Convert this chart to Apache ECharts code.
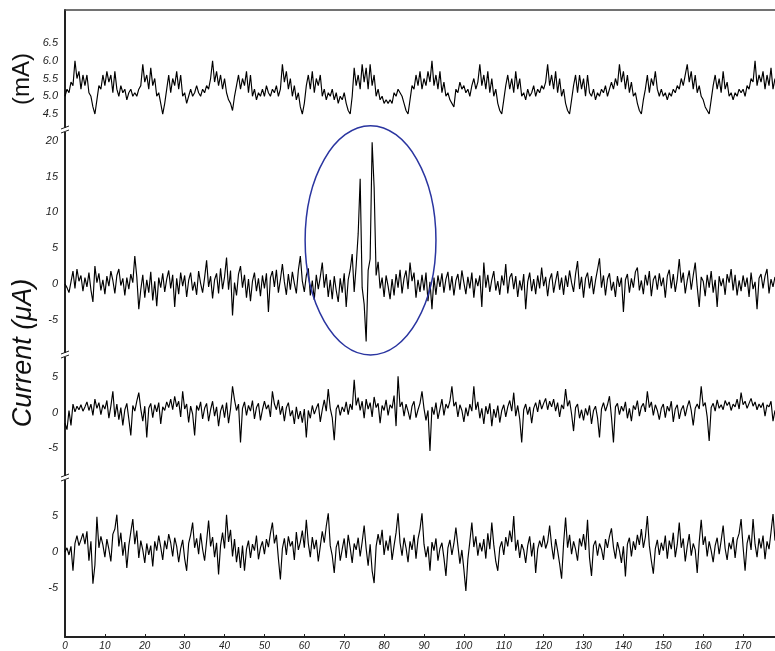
<!DOCTYPE html>
<html>
<head>
<meta charset="utf-8">
<script src="https://cdn.jsdelivr.net/npm/echarts@6/dist/echarts.min.js"></script>
<style>
html,body{margin:0;padding:0;background:#fff;}
#chart{width:775px;height:651px;}
</style>
</head>
<body>
<div id="chart"></div>
<script>
// sample spacing along x (seconds)
const STEP = 0.5;

// x-axis tick labels
const xTicks = [0,10,20,30,40,50,60,70,80,90,100,110,120,130,140,150,160,170];
const ticksMA = [4.5,5.0,5.5,6.0,6.5];
const ticksTrace2 = [-5,0,5,10,15,20];
const ticksTrace3 = [-5,0,5];
const ticksTrace4 = [-5,0,5];

// top trace (mA)
const traceMA = [
5.0,5.2,5.1,5.4,5.3,6.0,5.5,5.7,5.2,5.6,
5.3,5.6,5.1,5.0,4.7,4.5,4.9,5.3,5.2,5.6,
5.3,5.7,5.4,5.6,5.1,5.7,5.2,5.0,5.3,5.1,
5.2,4.9,5.1,5.2,5.0,5.1,5.0,5.2,5.3,5.9,
5.4,5.6,5.2,5.8,5.3,5.5,5.0,5.1,4.8,4.5,
4.8,5.2,5.6,5.1,5.5,5.3,5.7,5.2,5.6,5.0,
5.1,4.8,5.0,5.2,5.0,5.1,5.3,5.1,5.0,5.2,
5.1,5.3,5.2,5.5,6.0,5.4,5.7,5.3,5.6,5.2,
5.5,5.1,4.9,4.8,4.6,5.0,5.3,5.6,5.2,5.5,
5.3,5.7,5.1,5.6,5.0,5.2,4.9,5.1,5.0,5.2,
5.0,5.3,5.1,5.0,5.2,5.1,5.3,5.0,5.2,5.9,
5.4,5.7,5.2,5.5,5.0,5.3,4.9,5.1,4.7,4.5,
4.8,5.3,5.6,5.2,5.7,5.1,5.5,5.3,5.6,5.0,
5.2,4.9,5.1,5.0,5.2,4.9,5.1,4.8,5.0,4.9,
5.1,4.8,4.6,4.5,5.0,5.8,5.3,5.6,5.2,5.9,
5.4,5.8,5.2,5.9,5.3,5.6,5.0,5.2,4.9,5.0,
4.8,4.9,4.8,4.9,4.8,5.1,5.0,5.2,5.1,5.0,
4.8,4.6,4.5,4.9,5.3,5.2,5.6,5.3,5.7,5.2,
5.5,5.3,5.7,5.4,6.0,5.3,5.6,5.2,5.7,5.1,
5.4,5.0,5.1,4.9,4.8,4.7,5.2,5.1,5.4,5.2,
5.3,5.1,5.2,5.0,5.3,5.5,5.2,5.4,5.9,5.3,
5.6,5.2,5.7,5.1,5.5,5.0,5.2,4.8,4.6,4.5,
4.9,5.3,5.6,5.2,5.5,5.1,5.7,5.2,5.5,5.0,
5.1,4.9,5.2,5.0,5.1,5.3,5.0,5.2,5.1,5.3,
5.2,5.4,5.9,5.3,5.6,5.2,5.7,5.1,5.5,5.0,
5.2,4.8,4.6,4.5,4.9,5.3,5.6,5.1,5.6,5.2,
5.5,5.0,5.6,5.1,5.0,5.2,4.9,5.1,5.0,5.2,
5.1,5.3,5.0,5.2,5.4,5.2,5.5,5.3,5.9,5.4,
5.7,5.2,5.6,5.1,5.4,5.0,5.1,4.8,4.6,4.5,
4.9,5.2,5.6,5.1,5.5,5.3,5.7,5.2,5.0,5.2,
5.0,5.1,4.9,5.1,5.0,5.2,5.1,5.3,5.2,5.5,
5.3,5.6,5.9,5.4,5.7,5.2,5.6,5.1,5.3,5.0,
4.9,4.7,4.6,4.5,4.9,5.3,5.6,5.2,5.5,5.1,
5.7,5.2,5.4,5.0,5.1,4.9,5.1,5.0,5.2,5.1,
5.2,5.0,5.3,5.2,5.5,5.4,6.0,5.3,5.6,5.4,
5.7,5.2,5.6,5.3,5.8,5.2,5.5
];

// second trace (uA) with the two spikes
const trace2 = [
0.0,-0.5,-1.2,0.3,1.8,-0.6,2.1,0.4,1.2,-1.0,
0.9,-0.4,1.6,-0.8,-2.5,2.5,0.2,1.5,-0.9,0.6,
-1.4,1.1,-0.3,1.8,0.5,-1.3,1.2,2.1,-0.2,0.8,
-1.6,0.9,-0.7,1.4,0.2,3.9,1.0,-3.5,-0.8,1.3,
-1.9,0.6,-1.2,1.7,-2.3,0.4,-3.1,0.9,-0.5,1.5,
-1.1,0.7,1.9,-0.6,1.3,-3.2,0.8,-1.4,1.6,-0.3,
1.2,-1.8,0.5,1.6,-0.9,0.3,-1.5,1.8,0.1,-1.2,
0.9,3.3,-0.4,1.1,-2.0,0.6,1.5,-1.3,2.2,-0.7,
1.0,3.7,-0.8,1.9,-4.4,0.2,-1.6,1.4,2.5,-0.5,
1.3,-1.9,0.7,-2.4,0.4,1.6,-1.0,0.8,-1.7,1.2,
-0.6,1.5,-3.9,0.9,1.8,-0.4,2.0,-1.2,0.6,2.8,
0.3,-1.5,1.4,-0.8,1.7,0.1,-1.3,1.9,3.9,0.4,
-1.1,1.2,2.2,-1.6,0.5,-2.2,1.3,-0.7,1.0,3.0,
-0.5,1.4,-1.8,0.6,-2.1,1.1,-0.9,-2.5,0.8,-1.2,
1.5,-3.2,0.6,2.0,4.2,-1.1,2.6,7.0,14.7,-0.5,
-2.8,-8.0,1.9,3.5,19.8,13.5,1.2,3.1,-0.6,0.9,
-1.8,1.2,-0.3,-2.1,0.7,-1.6,1.4,-0.5,2.0,-1.3,
0.8,1.9,-0.7,3.0,0.4,1.6,-1.9,0.6,-1.1,1.3,
-0.9,1.6,-2.4,0.3,-3.5,0.9,-1.5,1.2,-0.4,1.5,
-1.2,0.7,1.7,-0.9,1.1,-1.6,0.5,1.4,-0.8,1.9,
0.2,-1.4,1.0,-0.6,1.6,-1.9,0.8,-0.3,1.2,-3.2,
3.0,-0.5,1.3,-1.1,0.6,1.8,-0.9,0.4,-1.5,1.2,
-0.2,2.8,-1.3,0.9,1.5,-0.7,1.1,-1.8,0.5,-0.9,
1.4,-3.5,0.3,1.6,-1.0,0.7,-1.4,1.2,-0.6,2.3,
-0.3,1.0,-1.7,0.6,1.5,-1.2,0.4,1.8,-0.8,0.9,
-1.5,1.2,-0.4,1.9,0.2,-1.1,1.4,3.2,-0.7,1.0,
-1.9,0.8,1.6,-0.6,1.1,-1.4,0.5,2.0,3.6,-0.5,
1.2,-1.6,0.7,1.5,-0.9,0.3,-1.8,1.1,-0.4,0.9,
-3.9,0.6,1.4,-1.2,0.8,-0.5,1.7,2.3,-0.9,0.5,
-1.4,1.3,-0.2,1.8,-1.7,0.6,1.2,-0.8,1.5,-0.3,
0.9,-1.9,1.1,2.0,-0.6,1.4,-1.1,0.7,3.5,0.2,
1.6,-1.3,0.5,1.9,-0.8,1.2,3.0,-0.4,-3.2,1.0,
0.4,-1.7,1.3,-0.5,1.8,-1.2,0.6,-3.2,1.1,-0.3,
0.8,-1.5,1.4,0.2,2.1,-0.9,1.3,-1.6,0.5,-1.0,
1.2,-0.4,0.9,-1.8,1.6,-0.7,0.3,-3.5,0.8,1.4,
-0.6,1.1,2.1,-1.3,0.7,-0.4,1.0
];

// third trace (uA)
const trace3 = [
-1.5,-2.4,0.3,-1.8,1.2,0.1,0.9,0.4,1.1,0.2,
0.8,1.5,0.3,1.2,-0.4,1.9,0.6,1.4,-0.3,1.1,
0.5,1.7,-0.8,0.9,3.0,-0.6,1.2,-1.0,0.7,-1.8,
0.4,1.3,-0.9,-3.2,1.0,0.2,1.6,2.8,0.5,-1.2,
0.9,-3.5,0.6,1.3,-0.7,1.1,0.1,1.4,-1.6,0.8,
0.3,1.5,0.7,1.9,0.4,2.3,0.8,1.6,-0.6,3.0,
0.5,1.2,-1.4,0.9,-0.2,-3.2,1.0,0.3,1.5,-0.9,
0.6,1.3,-1.2,0.4,1.6,-0.5,0.8,-1.9,0.2,1.1,
-0.7,1.4,-1.5,0.5,3.7,1.8,0.3,1.2,-4.2,0.6,
1.5,-0.4,1.0,0.2,1.7,-0.9,0.7,1.3,-1.1,0.4,
1.6,0.5,1.1,-0.6,3.0,1.2,0.4,1.8,-0.3,0.9,
-1.2,0.7,1.4,-0.5,0.3,-1.6,0.8,-0.9,0.2,-1.4,
0.5,-3.5,0.3,-0.8,1.0,-0.2,0.6,1.3,-1.3,0.4,
1.8,0.2,3.3,0.6,-0.7,-3.9,0.5,1.1,-0.4,0.8,
0.1,1.5,-0.3,1.2,0.4,4.6,1.0,2.1,0.3,1.6,
-0.8,1.9,0.5,1.4,-0.6,2.2,0.7,1.3,-1.5,1.0,
0.3,1.8,-0.4,1.1,0.6,2.4,-1.9,5.1,0.8,1.5,
-0.5,1.2,0.2,-1.0,0.9,1.6,-0.7,0.4,1.3,3.0,
0.6,-1.1,0.3,-5.4,0.8,-0.3,1.4,-0.9,0.5,1.9,
-0.4,1.2,0.6,1.6,3.7,0.9,1.5,-0.6,1.1,0.3,
-1.3,0.7,-0.5,1.2,0.2,3.7,0.4,1.5,-0.8,0.6,
-1.6,0.9,-0.2,1.3,-1.9,0.5,-0.7,1.0,-1.4,0.3,
1.1,-0.6,0.8,1.7,0.2,2.8,-0.5,1.0,-0.9,-4.2,
0.4,1.2,-0.3,0.8,-1.5,0.6,1.4,0.1,1.8,0.5,
1.3,2.0,0.4,1.6,0.8,1.9,0.2,1.4,-0.6,1.1,
0.5,3.3,0.9,1.7,-0.2,-2.6,0.7,1.2,-0.8,0.4,
-1.1,0.6,-0.4,1.0,-1.6,0.3,0.9,-0.7,-3.5,0.5,
1.4,0.2,1.1,2.3,-0.6,-4.2,0.8,1.3,-0.3,0.9,
0.2,1.5,-0.8,0.6,-1.2,1.0,0.4,1.7,-0.5,0.8,
1.3,0.1,3.0,0.7,1.5,-0.4,1.1,0.3,-1.0,0.6,
1.2,-0.7,0.9,0.2,1.6,-1.3,0.5,1.1,-0.9,0.4,
1.0,-0.5,0.8,1.7,0.3,-1.8,0.6,1.2,0.5,3.7,
0.9,1.4,-0.6,-4.0,0.7,1.3,0.2,1.8,0.6,1.1,
0.4,1.7,1.0,1.5,0.3,1.2,0.8,1.9,0.5,2.8,
1.1,1.6,0.6,1.3,2.0,0.9,1.5,0.4,1.2,0.7,
1.4,-0.5,1.1,0.8,1.6,-1.2,0.3
];

// bottom trace (uA)
const trace4 = [
0.0,0.6,-0.4,0.8,-2.6,1.2,2.3,0.9,1.7,2.6,
1.1,2.9,-1.2,1.5,-4.4,-1.8,4.9,0.6,2.2,1.0,
-0.7,1.8,0.4,-1.3,2.5,3.2,5.2,0.8,2.7,-0.5,
1.4,-2.2,0.9,2.8,4.6,1.1,3.0,-0.8,1.6,0.3,
-1.5,1.2,-0.4,0.9,-2.0,1.5,0.2,2.3,0.7,-1.1,
1.6,0.4,2.5,1.3,-0.6,2.0,0.8,-1.4,0.5,1.7,
-0.9,-2.6,1.2,2.4,4.1,0.6,1.9,-0.3,2.6,0.4,
-1.2,1.5,4.4,0.8,2.1,-0.7,1.3,-3.1,0.9,2.7,
0.5,5.2,1.4,3.1,-0.6,1.8,-1.4,0.7,-2.2,0.9,
-2.6,0.4,1.6,-0.8,1.1,0.2,2.3,-1.0,0.6,1.5,
-0.3,1.8,0.7,2.6,4.1,1.2,2.4,-0.9,-3.8,0.5,
1.9,-0.4,2.2,0.8,1.5,-1.1,2.8,0.3,1.4,3.0,
0.6,4.5,1.2,-0.7,2.1,0.4,1.7,-1.3,0.8,2.9,
1.3,3.6,5.4,0.9,-0.5,-2.9,0.7,1.6,-1.2,0.4,
1.9,-0.8,2.4,0.6,-1.5,1.2,0.3,2.0,-0.6,1.4,
3.7,0.5,-1.9,1.1,-2.6,-4.3,0.8,2.5,1.0,3.1,
-0.4,1.6,0.2,2.3,-1.1,0.9,2.7,5.4,1.3,-0.5,
2.0,0.6,-1.4,1.5,0.3,2.4,-0.9,1.8,3.2,5.4,
1.1,-0.7,0.8,-2.6,1.4,0.2,1.9,-1.2,0.5,1.3,
-0.8,-3.3,0.6,1.7,-0.4,1.2,3.4,0.9,-1.6,0.3,
-2.4,-5.4,-1.0,1.5,4.1,0.7,2.2,-0.5,1.3,0.1,
1.8,-0.9,2.6,0.4,4.1,1.0,-1.3,-2.6,0.6,1.5,
-0.4,2.1,0.8,3.0,1.4,5.0,0.2,1.7,-0.8,1.1,
0.3,-1.5,0.9,2.2,-0.6,1.3,-2.9,0.4,1.6,0.7,
2.3,0.5,1.4,3.7,0.9,-1.0,1.8,0.2,-1.6,-3.7,
1.2,4.8,0.6,2.4,-0.3,1.5,0.4,-1.2,1.9,0.8,
2.5,0.3,4.5,-0.8,-3.3,0.9,1.6,-0.5,1.2,0.4,
-1.1,1.8,0.6,2.2,3.3,0.7,-0.9,1.4,0.2,-1.5,
0.8,-3.4,1.1,2.0,-0.6,1.5,0.3,2.4,1.0,3.2,
0.6,2.1,5.0,0.9,-1.2,-3.0,0.5,1.7,-0.4,1.3,
0.2,2.3,-0.9,1.6,0.4,2.7,-0.7,1.1,4.1,0.6,
1.9,-1.3,0.8,2.5,-0.5,1.2,0.3,-2.9,1.4,4.5,
1.0,2.2,-0.6,1.5,0.2,-1.4,0.9,2.0,-0.3,1.6,
3.7,0.5,-1.1,1.3,0.4,2.1,-0.8,1.7,2.6,4.6,
0.7,-2.6,1.2,2.4,0.3,4.6,1.1,-0.7,1.9,0.5,
2.3,-1.0,1.5,0.4,2.8,5.3,1.6
];

// annotation ellipse around the spikes (data units of panel 2)
const ellipseCenter = [76.6, 6.1];
const ellipseHalf = [16.4, 16.0];

const toPairs = arr => arr.map((v, i) => [i * STEP, v]);

const X_MAX = 178;
const LEFT = 65;
const grids = [
  {left: LEFT, right: 0, top: 10, height: 120},
  {left: LEFT, right: 0, top: 130, height: 225},
  {left: LEFT, right: 0, top: 355, height: 123},
  {left: LEFT, right: 0, top: 478, height: 159}
];
const yRanges = [[4.05, 7.43], [-9.9, 21.5], [-9.2, 8.1], [-11.8, 10.3]];
const yTicks = [ticksMA, ticksTrace2, ticksTrace3, ticksTrace4];
const traces = [traceMA, trace2, trace3, trace4];

const labelFont = {fontFamily: 'Liberation Sans, Arial, sans-serif', fontStyle: 'italic', color: '#222'};

const chart = echarts.init(document.getElementById('chart'), null, {renderer: 'canvas'});

const xAxis = grids.map((g, i) => {
  const base = {type: 'value', gridIndex: i, min: 0, max: X_MAX, splitLine: {show: false}};
  if (i === 0) {
    return Object.assign(base, {position: 'top', axisLine: {show: true, onZero: false, lineStyle: {color: '#444', width: 1.5}},
      axisTick: {show: false}, axisLabel: {show: false}});
  }
  if (i === 3) {
    return Object.assign(base, {position: 'bottom',
      axisLine: {show: true, onZero: false, lineStyle: {color: '#222', width: 2}},
      axisTick: {show: true, inside: true, length: 3, customValues: xTicks, lineStyle: {color: '#222'}},
      axisLabel: Object.assign({show: true, fontSize: 10, margin: 4, customValues: xTicks}, labelFont)});
  }
  return Object.assign(base, {show: false});
});

const yAxis = grids.map((g, i) => ({
  type: 'value', gridIndex: i, min: yRanges[i][0], max: yRanges[i][1],
  splitLine: {show: false},
  axisLine: {show: true, onZero: false, lineStyle: {color: '#222', width: 2}},
  axisTick: {show: false},
  axisLabel: Object.assign({show: true, fontSize: 11, margin: 7, customValues: yTicks[i],
    formatter: v => (i === 0 ? Number(v).toFixed(1) : String(Math.round(v)))}, labelFont)
}));

const series = traces.map((t, i) => ({
  type: 'line', xAxisIndex: i, yAxisIndex: i, data: toPairs(t),
  showSymbol: false, symbol: 'none', sampling: false, clip: true,
  lineStyle: {color: '#000', width: 1.15}
}));

chart.setOption({
  animation: false,
  backgroundColor: '#fff',
  grid: grids,
  xAxis: xAxis,
  yAxis: yAxis,
  series: series
});

// decorations: axis-break marks, axis titles, annotation ellipse
const breaks = [grids[1].top, grids[2].top, grids[3].top];
const gfx = [];
breaks.forEach(y => {
  gfx.push({type: 'rect', shape: {x: LEFT - 3, y: y - 2, width: 6, height: 4}, style: {fill: '#fff'}, z: 100});
  gfx.push({type: 'line', shape: {x1: LEFT - 4, y1: y - 1, x2: LEFT + 4, y2: y - 4}, style: {stroke: '#222', lineWidth: 1}, z: 101});
  gfx.push({type: 'line', shape: {x1: LEFT - 4, y1: y + 3, x2: LEFT + 4, y2: y}, style: {stroke: '#222', lineWidth: 1}, z: 101});
});

const c = chart.convertToPixel({gridIndex: 1}, ellipseCenter);
const e = chart.convertToPixel({gridIndex: 1}, [ellipseCenter[0] + ellipseHalf[0], ellipseCenter[1] + ellipseHalf[1]]);
gfx.push({type: 'ellipse', shape: {cx: c[0], cy: c[1], rx: Math.abs(e[0] - c[0]), ry: Math.abs(e[1] - c[1])},
  style: {fill: 'none', stroke: '#2a35a0', lineWidth: 1.5}, z: 90});

gfx.push({type: 'text', x: 22, y: 79, rotation: Math.PI / 2,
  style: {text: '(mA)', font: '24px "Liberation Sans", Arial, sans-serif', fill: '#111', textAlign: 'center', textVerticalAlign: 'middle'}});
gfx.push({type: 'text', x: 23, y: 353, rotation: Math.PI / 2,
  style: {text: 'Current (μA)', font: 'italic 27px "Liberation Sans", Arial, sans-serif', fill: '#111', textAlign: 'center', textVerticalAlign: 'middle'}});

chart.setOption({graphic: gfx});
</script>
</body>
</html>
